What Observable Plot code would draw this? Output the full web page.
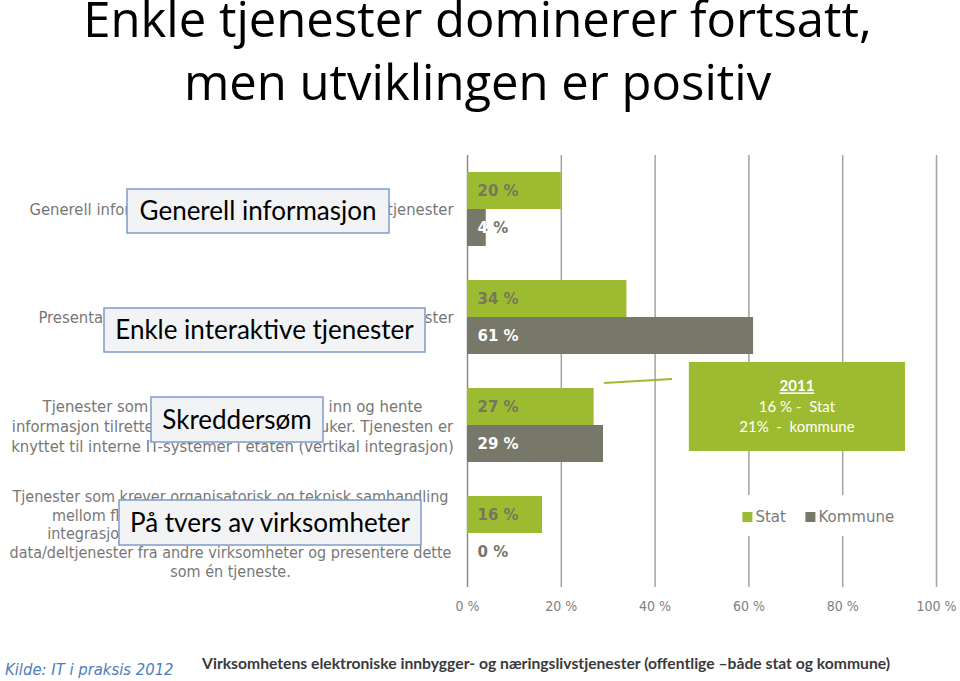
<!DOCTYPE html>
<html><head><meta charset="utf-8">
<script src="https://cdn.jsdelivr.net/npm/d3@7"></script>
<script src="https://cdn.jsdelivr.net/npm/@observablehq/plot@0.6"></script>
<style>
body{margin:0;background:#fff;}
#page{position:relative;width:960px;height:681px;overflow:hidden;background:#fff;}
.tline{position:absolute;left:0;width:955px;text-align:center;font-family:"Open Sans";font-size:49px;line-height:36px;height:50px;color:#000;white-space:nowrap;}
#chart{position:absolute;left:0;top:140px;}
#source{position:absolute;left:5px;top:660px;font-family:"DejaVu Sans Condensed";font-style:italic;font-size:16.5px;color:#4f7dbd;white-space:nowrap;}
#caption{position:absolute;left:202px;top:654px;font-family:Lato;font-weight:bold;font-size:15.7px;color:#3a3a3a;white-space:nowrap;}
</style></head>
<body><div id="page">
<div class="tline" style="top:0px">Enkle tjenester dominerer fortsatt,</div>
<div class="tline" style="top:63px">men utviklingen er positiv</div>
<div id="chart"></div>
<div id="source">Kilde: IT i praksis 2012</div>
<div id="caption">Virksomhetens elektroniske innbygger- og næringslivstjenester (offentlige –både stat og kommune)</div>
</div>
<script>
// ---- data ----
const categories = ["Generell informasjon", "Enkle interaktive tjenester", "Skreddersøm", "På tvers av virksomheter"];
const descriptions = [
  ["Generell informasjon om virksomheten og dens tjenester"],
  ["Presentasjon av skjemaer og enkle interaktive tjenester"],
  ["Tjenester som lar brukerne selv legge inn og hente",
   "informasjon tilrettelagt for den enkelte bruker. Tjenesten er",
   "knyttet til interne IT-systemer i etaten (vertikal integrasjon)"],
  ["Tjenester som krever organisatorisk og teknisk samhandling",
   "mellom flere virksomheter eller etater (horisontal",
   "integrasjon). Tjenesten kan hente og sammenstille",
   "data/deltjenester fra andre virksomheter og presentere dette",
   "som én tjeneste."]
];
const series = ["Stat", "Kommune"];
const statValues = [20, 34, 27, 16];
const kommuneValues = [4, 61, 29, 0];
const xTicks = [0, 20, 40, 60, 80, 100];
const note2011Title = "2011";
const note2011Lines = ["16 % -  Stat", "21%  -  kommune"];

// ---- styles ----
const GREEN = "#9dbb30", GREY = "#78786a";
const rows = categories.flatMap((c, i) => [
  {category: c, series: "Stat", value: statValues[i]},
  {category: c, series: "Kommune", value: kommuneValues[i]}
]);
const catIndex = d => categories.indexOf(d.category);
const nLines = d => descriptions[catIndex(d)].length;

const W = 960, H = 480, MT = 15, MB = 33, ML = 467, MR = 24;

const chart = Plot.plot({
  width: W, height: H,
  marginLeft: ML, marginRight: MR, marginTop: MT, marginBottom: MB,
  style: {fontFamily: "DejaVu Sans Condensed", fontSize: "14px", color: "#7f7f7f", background: "transparent", overflow: "visible"},
  facet: {data: rows, y: "category"},
  fy: {domain: categories, padding: 0, axis: null, label: null},
  x: {domain: [0, 100], ticks: xTicks, tickFormat: d => d + " %", tickSize: 0, tickPadding: 14, label: null},
  y: {domain: series, paddingInner: 0, paddingOuter: 0.45, axis: null, label: null},
  color: {domain: series, range: [GREEN, GREY]},
  marks: [
    Plot.ruleX(xTicks.slice(1), {stroke: "#a3a3a3", strokeWidth: 1.5}),
    Plot.ruleX(xTicks.slice(0, 1), {stroke: "#8a8a8a", strokeWidth: 1.5}),
    Plot.barX(rows, {x: "value", y: "series", fill: "series"}),
    Plot.text(rows, {filter: d => d.series === "Stat", y: "series", frameAnchor: "left", dx: 10, textAnchor: "start",
      text: d => d.value + " %", fill: "#76775f", fontWeight: "bold", fontSize: 15, fontFamily: "DejaVu Sans"}),
    Plot.text(rows, {filter: d => d.series === "Kommune", y: "series", frameAnchor: "left", dx: 10, textAnchor: "start",
      text: d => d.value + " %", fill: "#fffffe", fontWeight: "bold", fontSize: 15, fontFamily: "DejaVu Sans"}),
    // single-line descriptions
    Plot.text(rows, {filter: d => d.series === "Stat" && nLines(d) === 1, frameAnchor: "left", dx: -14,
      textAnchor: "end", text: d => descriptions[catIndex(d)].join("\n"),
      fill: "#777", fontSize: 16.5, fontFamily: "DejaVu Sans Condensed"}),
    // three-line description
    Plot.text(rows, {filter: d => d.series === "Stat" && nLines(d) === 3, frameAnchor: "left", dx: -235,
      textAnchor: "middle", lineHeight: 1.21, text: d => descriptions[catIndex(d)].join("\n"),
      fill: "#777", fontSize: 16.5, fontFamily: "DejaVu Sans Condensed"}),
    // five-line description
    Plot.text(rows, {filter: d => d.series === "Stat" && nLines(d) === 5, frameAnchor: "left", dx: -237,
      textAnchor: "middle", lineHeight: 1.16, text: d => descriptions[catIndex(d)].join("\n"),
      fill: "#777", fontSize: 16, fontFamily: "DejaVu Sans Condensed"})
  ]
});
document.getElementById("chart").appendChild(chart);

// ---- scales for annotations ----
const xs = chart.scale("x");
const x = d3.scaleLinear(xs.domain, xs.range);
let fy;
try {
  const s = chart.scale("fy");
  fy = d3.scaleBand(s.domain, s.range).paddingInner(s.paddingInner || 0).paddingOuter(s.paddingOuter || 0);
} catch (e) {
  fy = d3.scaleBand(categories, [MT, H - MB]);
}
const svg = d3.select(chart);

// Kommune labels: white inside the bar, grey outside
const defs = svg.append("defs");
const svgRect = chart.getBoundingClientRect();
const kTexts = Array.from(chart.querySelectorAll('g[fill="#fffffe"] text'));
kTexts.forEach((t, j) => {
  const i = Number.isInteger(t.__data__) ? t.__data__ : -1;
  const v = i >= 0 && rows[i] ? rows[i].value : kommuneValues[j];
  const r = t.getBoundingClientRect();
  const barEnd = svgRect.left + x(v);
  const off = Math.max(0, Math.min(1, (barEnd - r.left) / r.width));
  const g = defs.append("linearGradient").attr("id", "kg" + j).attr("x1", 0).attr("x2", 1).attr("y1", 0).attr("y2", 0);
  g.append("stop").attr("offset", off).attr("stop-color", "#ffffff");
  g.append("stop").attr("offset", off).attr("stop-color", "#76776a");
  t.setAttribute("fill", `url(#kg${j})`);
});

// Overlay category boxes
const boxes = [
  {cx: 258, w: 262, top: 34, h: 44},
  {cx: 264.5, w: 321, top: 45, h: 44},
  {cx: 237, w: 172, top: 26, h: 45},
  {cx: 270, w: 302, top: 21, h: 45}
];
const ann = svg.append("g").attr("text-anchor", "start");
categories.forEach((c, i) => {
  const b = boxes[i], y0 = fy(c) + b.top;
  ann.append("rect").attr("x", b.cx - b.w / 2).attr("y", y0).attr("width", b.w).attr("height", b.h)
    .attr("fill", "#f2f3f5").attr("stroke", "#7f9cc6").attr("stroke-width", 1.5);
  ann.append("text").attr("x", b.cx).attr("y", y0 + b.h / 2).attr("text-anchor", "middle").attr("dy", "0.36em")
    .attr("font-family", "Lato").attr("font-size", 26).attr("fill", "#000").text(c);
});

// 2011 note (beside the "Skreddersøm" group)
const f3 = fy(categories[2]);
ann.append("line").attr("x1", x(29.2)).attr("x2", x(43.7)).attr("y1", f3 + 12).attr("y2", f3 + 8)
  .attr("stroke", GREEN).attr("stroke-width", 2);
const nx1 = x(47.3), nx2 = x(93.4);
ann.append("rect").attr("x", nx1).attr("y", f3 - 9).attr("width", nx2 - nx1).attr("height", 89).attr("fill", GREEN);
const ncx = (nx1 + nx2) / 2;
ann.append("text").attr("x", ncx).attr("y", f3 + 15).attr("dy", "0.36em").attr("text-anchor", "middle")
  .attr("font-family", "Lato").attr("font-size", 15).attr("font-weight", "bold").attr("fill", "#fff")
  .attr("text-decoration", "underline").text(note2011Title);
note2011Lines.forEach((l, k) => {
  ann.append("text").attr("x", ncx).attr("y", f3 + 36 + k * 19.5).attr("dy", "0.36em").attr("text-anchor", "middle")
    .attr("font-family", "Lato").attr("font-size", 15).attr("fill", "#fff").style("white-space", "pre").text(l);
});

// Legend (inside the last group)
const f4 = fy(categories[3]);
const lg = svg.append("g").attr("text-anchor", "start").attr("transform", `translate(${x(60) - 15},${f4 + 16})`);
lg.append("rect").attr("width", 172).attr("height", 41).attr("fill", "#fff");
const legendX = [9, 72];
series.forEach((s, k) => {
  lg.append("rect").attr("x", legendX[k]).attr("y", 17).attr("width", 10).attr("height", 10)
    .attr("fill", s === "Stat" ? GREEN : GREY);
  lg.append("text").attr("x", legendX[k] + 13).attr("y", 22).attr("dy", "0.36em").attr("text-anchor", "start")
    .attr("font-family", "DejaVu Sans").attr("font-size", 15).attr("fill", "#7a7a7a").text(s);
});
</script>
</body></html>
